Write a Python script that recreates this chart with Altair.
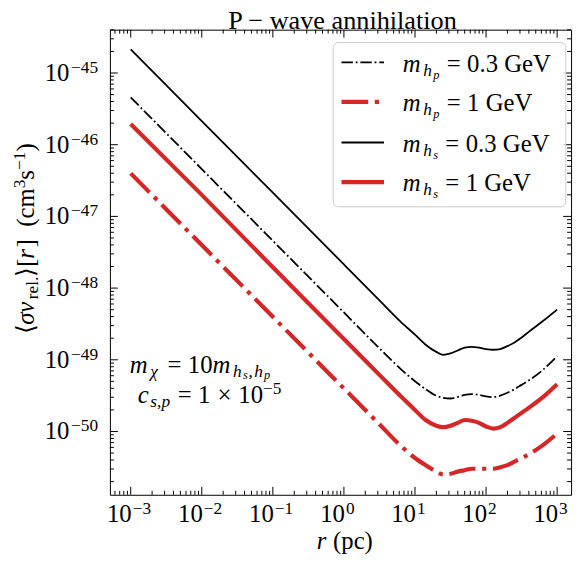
import altair as alt
import pandas as pd

# ---------------- data ----------------
log_r = [-3, -2, -1, 0, 0.5, 0.8, 1.0, 1.15, 1.3, 1.4, 1.5, 1.6, 1.7, 1.8,
         1.9, 2.0, 2.1, 2.2, 2.3, 2.4, 2.5, 2.6, 2.8, 3.0]
# log10 <sigma v>
log_hp03 = [-45.34, -46.34, -47.34, -48.34, -48.84, -49.13, -49.30, -49.41, -49.50, -49.53,
            -49.54, -49.52, -49.49, -49.48, -49.49, -49.51, -49.52, -49.50, -49.46, -49.41,
            -49.35, -49.29, -49.14, -48.95]
log_hp1 = [-46.40, -47.40, -48.40, -49.40, -49.90, -50.20, -50.37, -50.47, -50.56, -50.60,
           -50.59, -50.56, -50.54, -50.52, -50.52, -50.52, -50.52, -50.50, -50.47, -50.42,
           -50.37, -50.32, -50.19, -50.03]
log_hs03 = [-44.67, -45.67, -46.67, -47.67, -48.17, -48.47, -48.65, -48.79, -48.89, -48.93,
            -48.91, -48.87, -48.83, -48.82, -48.83, -48.85, -48.86, -48.85, -48.81, -48.76,
            -48.69, -48.61, -48.46, -48.30]
log_hs1 = [-45.71, -46.70, -47.71, -48.71, -49.21, -49.51, -49.70, -49.84, -49.92, -49.94,
           -49.92, -49.88, -49.84, -49.85, -49.88, -49.93, -49.96, -49.94, -49.88, -49.81,
           -49.74, -49.67, -49.52, -49.34]

x_decades = [-3, -2, -1, 0, 1, 2, 3]
y_decades = [-45, -46, -47, -48, -49, -50]
x_domain = [5.1e-4, 1.57e3]
y_domain = [1.31e-51, 4.02e-45]

RED = "#d62728"
FONT = "Liberation Serif"
FS = 25
SUB = 17.5
SUBSUB = 12.5
W, H = 466, 470

xs = alt.Scale(type="log", domain=x_domain, nice=False)
ys = alt.Scale(type="log", domain=y_domain, nice=False)
one = pd.DataFrame({"a": [0]})

def series_df(ly):
    return pd.DataFrame({"r": [10 ** v for v in log_r], "sv": [10 ** v for v in ly]})

def line(ly, color, width, dash=None):
    kw = dict(color=color, strokeWidth=width, interpolate="monotone", strokeCap="butt", clip=True)
    if dash:
        kw["strokeDash"] = dash
    return alt.Chart(series_df(ly)).mark_line(**kw).encode(
        x=alt.X("r:Q", scale=xs, axis=None),
        y=alt.Y("sv:Q", scale=ys, axis=None),
    )

BL_W, RD_W = 1.8, 4.2
BL_DASH = [11.5, 2.9, 1.8, 2.9]
RD_DASH = [27, 6.7, 4.2, 6.7]

layers = [
    line(log_hp03, "black", BL_W, BL_DASH),
    line(log_hp1, RED, RD_W, RD_DASH),
    line(log_hs03, "black", BL_W),
    line(log_hs1, RED, RD_W),
]

# ---------------- ticks (inward, all four sides) ----------------
def in_dom(v, d):
    return d[0] <= v <= d[1]

xmaj = [10.0 ** k for k in x_decades]
xmin = [m * 10.0 ** k for k in range(-4, 4) for m in range(2, 10) if in_dom(m * 10.0 ** k, x_domain)]
ymaj = [10.0 ** k for k in y_decades]
ymin = [m * 10.0 ** k for k in range(-52, -44) for m in range(2, 10) if in_dom(m * 10.0 ** k, y_domain)]

def xticks(vals, ln):
    df = pd.DataFrame({"v": vals})
    out = []
    for y0, y1 in [(H - ln, H), (0, ln)]:
        out.append(alt.Chart(df).mark_rule(color="black", strokeWidth=1).encode(
            x=alt.X("v:Q", scale=xs, axis=None), y=alt.value(y0), y2=alt.value(y1)))
    return out

def yticks(vals, ln):
    df = pd.DataFrame({"v": vals})
    out = []
    for x0, x1 in [(0, ln), (W - ln, W)]:
        out.append(alt.Chart(df).mark_rule(color="black", strokeWidth=1).encode(
            y=alt.Y("v:Q", scale=ys, axis=None), x=alt.value(x0), x2=alt.value(x1)))
    return out

layers += xticks(xmaj, 8) + xticks(xmin, 4) + yticks(ymaj, 8) + yticks(ymin, 4)

# ---------------- tick labels ----------------
def sup(k):
    return "\u2212" + str(abs(k)) if k < 0 else str(k)

xlab = pd.DataFrame({"v": xmaj, "base": ["10"] * len(xmaj), "exp": [sup(k) for k in x_decades]})
layers.append(alt.Chart(xlab).mark_text(font=FONT, fontSize=FS, align="right", baseline="alphabetic", dx=1, color="black").encode(
    x=alt.X("v:Q", scale=xs, axis=None), y=alt.value(H + 28), text="base:N"))
layers.append(alt.Chart(xlab).mark_text(font=FONT, fontSize=SUB, align="left", baseline="alphabetic", dx=2, color="black").encode(
    x=alt.X("v:Q", scale=xs, axis=None), y=alt.value(H + 19), text="exp:N"))

ylab = pd.DataFrame({"v": ymaj, "base": ["10"] * len(ymaj), "exp": [sup(k) for k in y_decades]})
layers.append(alt.Chart(ylab).mark_text(font=FONT, fontSize=FS, align="right", baseline="alphabetic", dy=8, color="black").encode(
    y=alt.Y("v:Q", scale=ys, axis=None), x=alt.value(-41), text="base:N"))
layers.append(alt.Chart(ylab).mark_text(font=FONT, fontSize=SUB, align="right", baseline="alphabetic", dy=0, color="black").encode(
    y=alt.Y("v:Q", scale=ys, axis=None), x=alt.value(-12), text="exp:N"))

# ---------------- math-like text helpers ----------------
REG = {' ': 250, '(': 333, ')': 333, '[': 333, ']': 333, '.': 250, ',': 250, '=': 564,
       '\u2212': 564, '\u00d7': 564, 'G': 722, 'e': 444, 'V': 722, 'c': 444, 'm': 778,
       's': 389, 'r': 333, 'l': 278, 'p': 500, '\u27e8': 390, '\u27e9': 390}
ITA = {'m': 760, 'h': 500, 'p': 500, 's': 389, 'c': 444, 'r': 389, 'v': 444,
       '\u03c3': 520, '\u03c7': 550, ',': 250}

def width(t, size, it):
    tab = ITA if it else REG
    w = sum(tab.get(ch, 500) for ch in t) / 1000.0 * size
    if it:
        w += 0.07 * size  # italic correction
    return w

def txt(t, x, y, size, it=False, angle=0):
    kw = dict(text=t, font=FONT, fontSize=size, fontStyle="italic" if it else "normal",
              align="left", baseline="alphabetic", color="black")
    if angle:
        kw["angle"] = angle
    return alt.Chart(one).mark_text(**kw).encode(x=alt.value(x), y=alt.value(y))

def math(segs, x0, y0, vertical=False):
    pos = 0.0
    out = []
    for s in segs:
        if s[0] is None:
            pos += s[1] * FS
            continue
        t, size, it, sh = s
        if vertical:
            out.append(txt(t, x0 + sh, y0 - pos, size, it, angle=270))
        else:
            out.append(txt(t, x0 + pos, y0 + sh, size, it))
        pos += width(t, size, it)
    return out

GAP = (None, 0.26)

# ---------------- title ----------------
layers.append(alt.Chart(one).mark_text(text="P \u2212 wave annihilation", font=FONT, fontSize=26.5,
                                       align="center", baseline="alphabetic", color="black").encode(
    x=alt.value(W / 2 + 2), y=alt.value(-0.5)))

# ---------------- axis titles ----------------
layers += math([("r", FS, True, 0), (None, 0.2), ("(pc)", FS, False, 0)], 209, 525)
layers += math([("\u27e8", FS, False, 0), ("\u03c3v", FS, True, 0), ("rel.", SUB, False, 4),
                ("\u27e9[", FS, False, 0), ("r", FS, True, 0), ("]", FS, False, 0), (None, 0.5),
                ("(cm", FS, False, 0), ("3", SUB, False, -9), ("s", FS, False, 0),
                ("\u22121", SUB, False, -9), (")", FS, False, 0)], -77, 308, vertical=True)

# ---------------- annotation ----------------
layers += math([("m", FS, True, 0), ("\u03c7", SUB, True, 4), GAP, ("=", FS, False, 0), GAP,
                ("10", FS, False, 0), ("m", FS, True, 0), ("h", SUB, True, 4), ("s", SUBSUB, True, 6),
                (",", SUB, True, 4), ("h", SUB, True, 4), ("p", SUBSUB, True, 6)], 20, 347)
layers += math([("c", FS, True, 0), ("s,p", SUB, True, 4), GAP, ("=", FS, False, 0), GAP,
                ("1", FS, False, 0), (None, 0.28), ("\u00d7", FS, False, 0), (None, 0.28),
                ("10", FS, False, 0), ("\u22125", SUB, False, -8.5)], 28, 377)

# ---------------- legend ----------------
layers.append(alt.Chart(one).mark_rect(fill="white", fillOpacity=0.8, stroke="#cccccc", strokeWidth=1,
                                       cornerRadius=5).encode(
    x=alt.value(225.7), x2=alt.value(460.7), y=alt.value(13), y2=alt.value(179)))

leg_rows = [
    ("p", "0.3 GeV", "black", BL_W, BL_DASH),
    ("p", "1 GeV", RED, RD_W, RD_DASH),
    ("s", "0.3 GeV", "black", BL_W, None),
    ("s", "1 GeV", RED, RD_W, None),
]
row_y = [33, 73, 114, 154]
for (sub, val, col, wd, dash), ry in zip(leg_rows, row_y):
    kw = dict(color=col, strokeWidth=wd, strokeCap="butt")
    if dash:
        kw["strokeDash"] = dash
    layers.append(alt.Chart(one).mark_rule(**kw).encode(
        x=alt.value(234), x2=alt.value(277), y=alt.value(ry), y2=alt.value(ry)))
    layers += math([("m", FS, True, 0), ("h", SUB, True, 4), (sub, SUBSUB, True, 7), GAP,
                    ("=", FS, False, 0), GAP, (val, FS, False, 0)], 296, ry + 9.5)

chart = alt.layer(*layers).properties(
    width=W, height=H,
    padding={"left": 103, "top": 19, "right": 5, "bottom": 63},
    autosize=alt.AutoSizeParams(type="none"),
    background="white",
).configure_view(stroke="black", strokeWidth=1)

chart.save("out.html", embed_options={"renderer": "svg", "actions": False})
